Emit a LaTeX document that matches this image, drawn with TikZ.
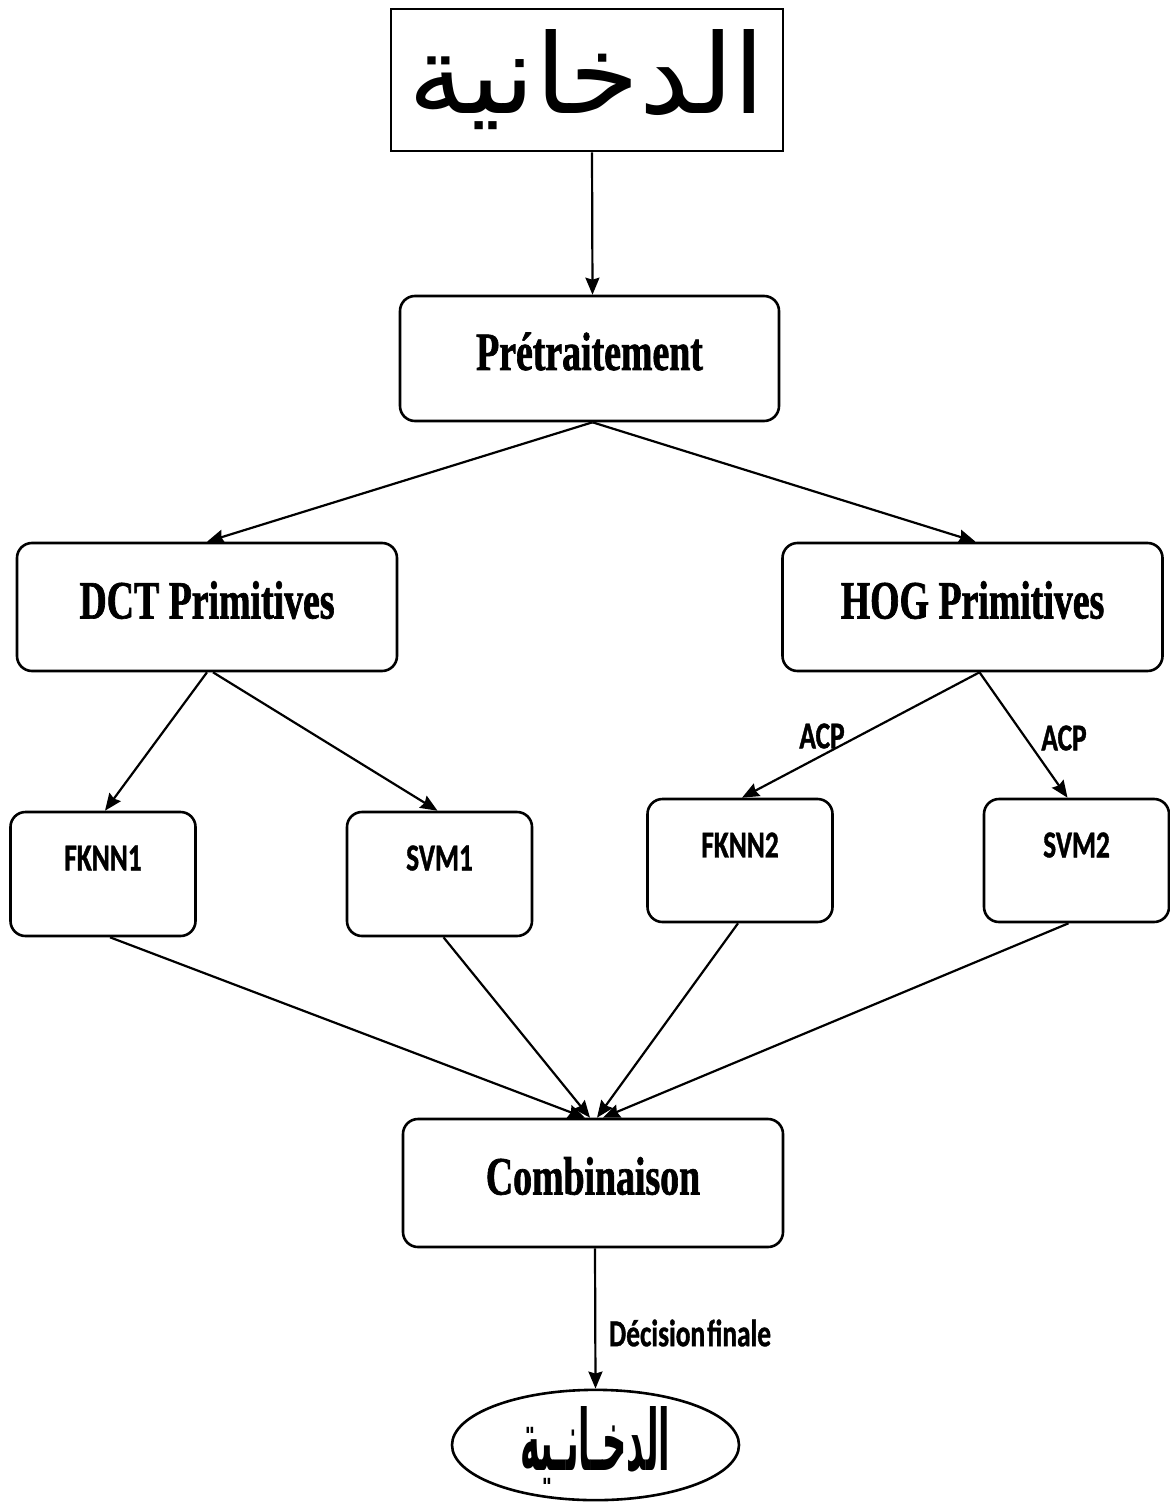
\documentclass[tikz,border=0pt]{standalone}
\usepackage{fontspec}
\usetikzlibrary{arrows.meta,shapes.geometric}
\TeXXeTstate=1
\newfontfamily\titlefont{Liberation Serif}[FakeStretch=0.7,BoldFeatures={FakeBold=1.2}]
\newfontfamily\tagfont{Carlito}[FakeStretch=0.72,BoldFeatures={FakeBold=1}]
\newfontfamily\arabicfont[Script=Arabic]{DejaVu Sans}
\tikzset{
  box/.style={draw, line width=1.3pt, rounded corners=7.5pt, inner sep=0pt},
  bigbox/.style={box, minimum width=190pt, minimum height=64pt,
    text height=17.5pt, text depth=6pt,
    font=\titlefont\bfseries\fontsize{27}{30}\selectfont},
  smallbox/.style={box, minimum width=92.5pt, minimum height=62pt},
  tag/.style={font=\tagfont\bfseries\fontsize{19}{21}\selectfont, inner sep=0pt},
  link/.style={line width=1.1pt, -{Stealth[length=8.5pt,width=7pt,inset=1pt]}},
}
\begin{document}
\begin{tikzpicture}[x=0.5pt,y=-0.5pt]
\useasboundingbox[fill=white] (0,0) rectangle (1170,1508);

% input word image
\node[draw, line width=1.3pt, minimum width=196pt, minimum height=71pt, inner sep=0pt] (word) at (587,80)
  {\resizebox{178pt}{42pt}{\arabicfont\beginR الدخانية\endR}};

% processing stages
\node[bigbox, minimum width=189.5pt, minimum height=62.5pt] (pre) at (589.5,358.5) {Prétraitement};
\node[bigbox] (dct) at (207,607) {DCT Primitives};
\node[bigbox] (hog) at (972.5,607) {HOG Primitives};

% classifiers
\node[smallbox] (fknnA) at (103,874) {};
\node[tag] (fknnAt) at (103,858) {FKNN1};
\node[smallbox] (svmA) at (439.5,874) {};
\node[tag] (svmAt) at (439.5,858) {SVM1};
\node[smallbox, minimum height=61.5pt] (fknnB) at (740,860.5) {};
\node[tag] (fknnBt) at (740,845) {FKNN2};
\node[smallbox, minimum height=61.5pt] (svmB) at (1076.5,860.5) {};
\node[tag] (svmBt) at (1076.5,845) {SVM2};

% fusion and result
\node[bigbox] (comb) at (593,1183) {Combinaison};
\node[draw, ellipse, line width=1.3pt, minimum width=143.5pt, minimum height=55pt, inner sep=0pt] (res) at (595.5,1445)
  {\resizebox{75pt}{32pt}{\arabicfont\bfseries\beginR الدخـانـية\endR}};

% edge labels
\node[tag] (acpA) at (822,736) {ACP};
\node[tag] (acpB) at (1064,738) {ACP};
\node[tag] (dec) at (690,1333) {Décision\hspace{1pt}finale};

% connectors
\draw[link] ([xshift=2.5pt]word.south) -- ([xshift=1.5pt]pre.north);
\draw[link] ([xshift=1.5pt]pre.south) -- (dct.north);
\draw[link] ([xshift=1.5pt]pre.south) -- ([xshift=1.5pt]hog.north);
\draw[link] (dct.south) -- ([xshift=1pt]fknnA.north);
\draw[link] ([xshift=3pt]dct.south) -- ([xshift=-1pt]svmA.north);
\draw[link] ([xshift=3.5pt]hog.south) -- ([xshift=1pt]fknnB.north);
\draw[link] ([xshift=3.5pt]hog.south) -- ([xshift=-4.5pt]svmB.north);
\draw[link] ([xshift=3.5pt]fknnA.south) -- ([xshift=-4pt]comb.north);
\draw[link] ([xshift=2pt]svmA.south) -- ([xshift=-1.5pt]comb.north);
\draw[link] ([xshift=-1pt]fknnB.south) -- ([xshift=2pt]comb.north);
\draw[link] ([xshift=-4pt]svmB.south) -- ([xshift=5pt]comb.north);
\draw[link] ([xshift=1pt]comb.south) -- (res.north);
\end{tikzpicture}
\end{document}
